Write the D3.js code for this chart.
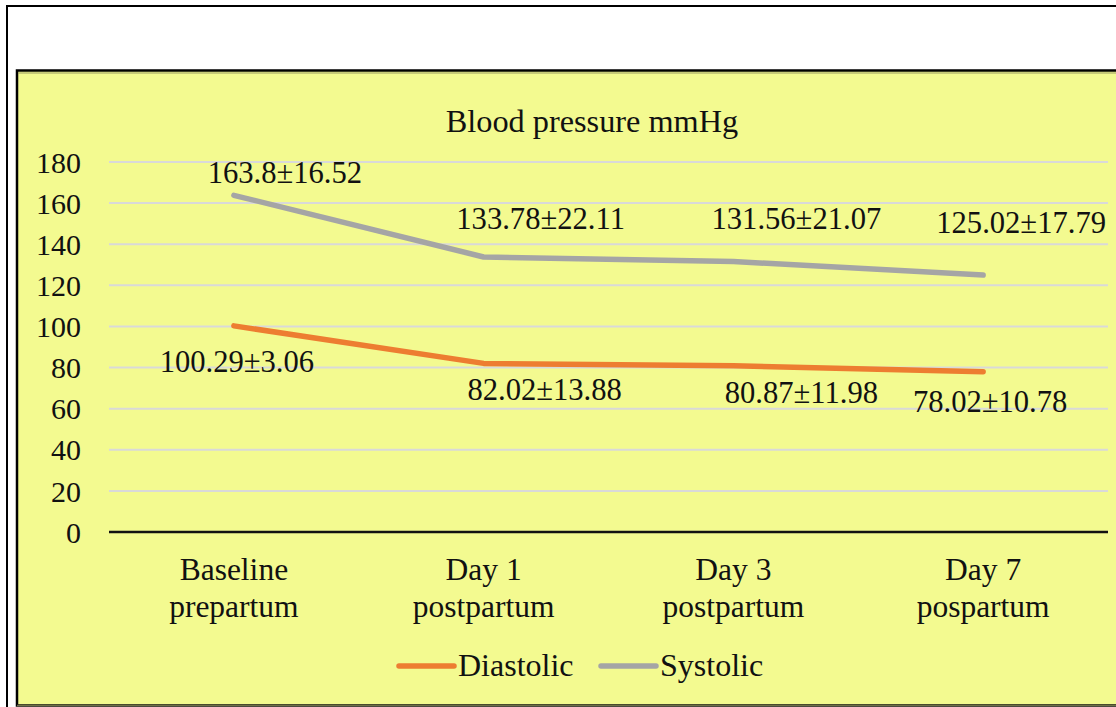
<!DOCTYPE html>
<html>
<head>
<meta charset="utf-8">
<script src="https://cdn.jsdelivr.net/npm/d3@7"></script>
<style>
  html, body { margin: 0; padding: 0; background: #ffffff; }
  svg { display: block; }
  text { font-family: "Liberation Serif", "Times New Roman", serif; fill: #111; }
</style>
</head>
<body>
<svg id="chart" width="1116" height="707"></svg>
<script>
// ---- data ----
const categories = ["Baseline\nprepartum", "Day 1\npostpartum", "Day 3\npostpartum", "Day 7\npospartum"];
const diastolic = [100.29, 82.02, 80.87, 78.02];
const diastolicSD = [3.06, 13.88, 11.98, 10.78];
const systolic = [163.8, 133.78, 131.56, 125.02];
const systolicSD = [16.52, 22.11, 21.07, 17.79];
const yTicks = [0, 20, 40, 60, 80, 100, 120, 140, 160, 180];
const title = "Blood pressure mmHg";
const seriesNames = ["Diastolic", "Systolic"];

// ---- layout (label placement offsets, pixels) ----
const sysLabelOffset = [[51, -12], [57, -28], [63, -33], [38, -42]];
const diaLabelOffset = [[3, 46], [61, 37], [68, 37], [7, 40]];

const svg = d3.select("#chart");
const W = 1116, H = 707;
const colors = { Diastolic: "#ED7D31", Systolic: "#A5A5A5" };

// outer frame
svg.append("rect").attr("x", 7).attr("y", 6).attr("width", W + 20).attr("height", H + 20)
  .attr("fill", "#fff").attr("stroke", "#000").attr("stroke-width", 2);

// inner chart box
svg.append("rect").attr("x", 17).attr("y", 70.5).attr("width", W + 20).attr("height", 635)
  .attr("fill", "#F3FA90").attr("stroke", "#000").attr("stroke-width", 2.5);
svg.append("line").attr("x1", 18).attr("x2", W).attr("y1", 73).attr("y2", 73)
  .attr("stroke", "#9a9a60").attr("stroke-width", 1);
svg.append("line").attr("x1", 17).attr("x2", W).attr("y1", 705.5).attr("y2", 705.5)
  .attr("stroke", "#6f6f48").attr("stroke-width", 1.5);

const x = d3.scaleBand().domain(categories).range([109, 1108]);
const y = d3.scaleLinear().domain([0, 180]).range([532, 162]);

// gridlines
svg.append("g").selectAll("line").data(yTicks.filter(d => d !== 0)).join("line")
  .attr("x1", 109).attr("x2", 1108)
  .attr("y1", d => y(d)).attr("y2", d => y(d))
  .attr("stroke", "#D9D9D9").attr("stroke-width", 2);

// y axis (labels only)
const yAxis = d3.axisLeft(y).tickValues(yTicks).tickSize(0).tickPadding(0);
const gy = svg.append("g").attr("transform", "translate(81,0)").call(yAxis);
gy.select(".domain").remove();
gy.selectAll("text").attr("font-size", 30).attr("font-family", "Liberation Serif, serif")
  .attr("fill", "#111").attr("dy", "0.34em");

// x axis line
svg.append("line").attr("x1", 109).attr("x2", 1108).attr("y1", y(0)).attr("y2", y(0))
  .attr("stroke", "#111").attr("stroke-width", 2.5);

// category labels
const xc = c => x(c) + x.bandwidth() / 2;
const catG = svg.append("g");
categories.forEach(c => {
  const lines = c.split("\n");
  const t = catG.append("text").attr("text-anchor", "middle").attr("font-size", 31.5);
  lines.forEach((l, i) => {
    t.append("tspan").attr("x", xc(c)).attr("y", 580 + i * 37).text(l);
  });
});

// title
svg.append("text").attr("x", 592).attr("y", 132).attr("text-anchor", "middle")
  .attr("font-size", 32.3).text(title);

// lines
const line = d3.line().x((d, i) => xc(categories[i])).y(d => y(d));
[["Systolic", systolic], ["Diastolic", diastolic]].forEach(([name, vals]) => {
  svg.append("path").datum(vals).attr("d", line)
    .attr("fill", "none").attr("stroke", colors[name]).attr("stroke-width", 5.5)
    .attr("stroke-linecap", "round").attr("stroke-linejoin", "round");
});

// data labels
const lblG = svg.append("g");
systolic.forEach((v, i) => {
  lblG.append("text").attr("text-anchor", "middle").attr("font-size", 30.6)
    .attr("x", xc(categories[i]) + sysLabelOffset[i][0])
    .attr("y", y(v) + sysLabelOffset[i][1])
    .text(`${v}±${systolicSD[i]}`);
});
diastolic.forEach((v, i) => {
  lblG.append("text").attr("text-anchor", "middle").attr("font-size", 30.6)
    .attr("x", xc(categories[i]) + diaLabelOffset[i][0])
    .attr("y", y(v) + diaLabelOffset[i][1])
    .text(`${v}±${diastolicSD[i]}`);
});

// legend
const legendX = [399, 601];
seriesNames.forEach((name, i) => {
  const g = svg.append("g").attr("transform", `translate(${legendX[i]},666)`);
  g.append("line").attr("x1", 0).attr("x2", 55).attr("y1", 0).attr("y2", 0)
    .attr("stroke", colors[name]).attr("stroke-width", 5.5).attr("stroke-linecap", "round");
  g.append("text").attr("x", 59).attr("y", 10).attr("font-size", 32).text(name);
});
</script>
</body>
</html>
